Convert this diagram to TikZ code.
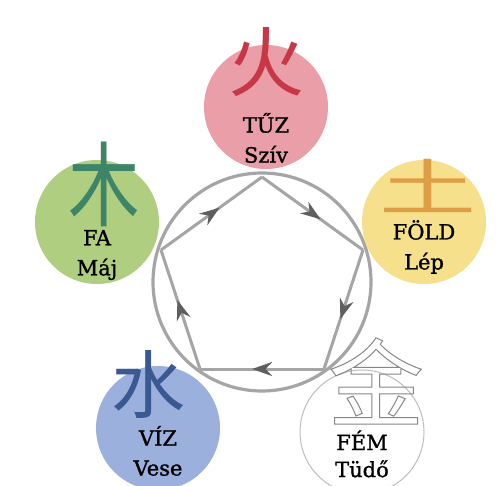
\documentclass[tikz,border=0pt]{standalone}
\usepackage{fontspec}
\setmainfont{DejaVu Serif}
\newfontfamily\organfont[RawFeature={embolden=1.2}]{DejaVu Serif}
\newfontfamily\cjk{Noto Sans CJK SC}
\usetikzlibrary{arrows.meta, decorations.markings}

\definecolor{firefill}{RGB}{234,158,168}
\definecolor{firesign}{RGB}{200,55,70}
\definecolor{earthfill}{RGB}{246,224,140}
\definecolor{earthsign}{RGB}{222,158,70}
\definecolor{woodfill}{RGB}{176,206,128}
\definecolor{woodsign}{RGB}{62,132,104}
\definecolor{waterfill}{RGB}{156,176,222}
\definecolor{watersign}{RGB}{58,88,145}
\definecolor{metaledge}{RGB}{190,190,190}
\definecolor{metalsign}{RGB}{135,135,135}
\definecolor{ringgray}{RGB}{165,165,165}
\definecolor{arrowgray}{RGB}{95,95,95}

\newcommand\hollow[1]{\special{pdf:literal direct 1 Tr 1 w}#1\special{pdf:literal direct 0 Tr}}

\begin{document}
\begin{tikzpicture}[
        x=1pt, y=-1pt,
        >=Stealth,
        element/.style={circle, minimum size=124pt, inner sep=0pt},
        sign/.style={font=\cjk\fontsize{#1}{#1}\selectfont, inner sep=0pt},
        organ/.style={font=\organfont\fontsize{21}{30}\selectfont, align=center, inner sep=0pt},
        ring/.style={draw=ringgray, line width=3.2pt},
        cycleedge/.style={draw=ringgray, line width=3pt, postaction={decorate},
            decoration={markings, mark=at position 0.58 with
                {\arrow[arrowgray]{Stealth[length=20pt, width=14pt]}}}}
    ]
    \useasboundingbox (0,0) rectangle (497,486);
    \fill[white] (0,0) rectangle (497,486);

    % ring and pentagon
    \node[ring, circle, minimum size=218pt, inner sep=0pt] (ring) at (262,282) {};
    \coordinate (p1) at (262,177);
    \coordinate (p2) at (363,250);
    \coordinate (p3) at (324,369);
    \coordinate (p4) at (200,369);
    \coordinate (p5) at (161,250);
    \draw[cycleedge] (p1) -- (p2);
    \draw[cycleedge] (p2) -- (p3);
    \draw[cycleedge] (p3) -- (p4);
    \draw[cycleedge] (p4) -- (p5);
    \draw[cycleedge] (p5) -- (p1);

    % elements
    \node[element, fill=firefill] (tuz) at (266,107) {};
    \node[element, fill=earthfill] (fold) at (424,222) {};
    \node[element, fill=woodfill] (fa) at (97,222) {};
    \node[element, fill=waterfill] (viz) at (158,428) {};
    \node[element, fill=white, draw=metaledge, line width=1pt] (fem) at (362,432) {};

    \node[sign=76, text=firesign] (tuzsign) at (266,62) {火};
    \node[sign=72, text=earthsign] (foldsign) at (428,186) {\scalebox{1.35}[0.85]{土}};
    \node[sign=84, text=woodsign] (fasign) at (104,184) {\scalebox{0.85}[1.1]{木}};
    \node[sign=74, text=watersign] (vizsign) at (148,384) {水};
    \node[sign=96, text=metalsign] (femsign) at (376,381) {\hollow{金}};

    \node[organ] (tuzlabel) at (266,138) {TŰZ\\Szív};
    \node[organ] (foldlabel) at (424,247) {FÖLD\\Lép};
    \node[organ] (falabel) at (97,255) {FA\\Máj};
    \node[organ] (vizlabel) at (158,451) {VÍZ\\Vese};
    \node[organ, font=\organfont\fontsize{21}{27}\selectfont] (femlabel) at (362,454) {FÉM\\Tüdő};
\end{tikzpicture}
\end{document}
